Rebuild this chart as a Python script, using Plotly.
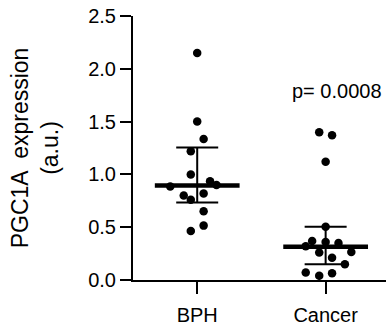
import plotly.graph_objects as go

# ---- data ----
categories = ["BPH", "Cancer"]
bph_values = [2.15, 1.50, 1.335, 1.22, 1.00, 0.885, 0.935, 0.90, 0.80, 0.76, 0.82, 0.65, 0.515, 0.465]
cancer_values = [1.40, 1.37, 1.12, 0.505, 0.37, 0.36, 0.35, 0.32, 0.26, 0.265, 0.21, 0.15, 0.07, 0.04, 0.063]
medians = [0.895, 0.315]
upper = [1.255, 0.505]
lower = [0.735, 0.148]
p_label = "p= 0.0008"
y_ticks = [0.0, 0.5, 1.0, 1.5, 2.0, 2.5]

# scatter-dot layout (horizontal spread within each category)
bph_jitter = [0, 0, 0.05, -0.05, -0.05, -0.21, 0.10, 0.15, -0.105, -0.05, 0.05, 0.05, 0.05, -0.05]
cancer_jitter = [-0.05, 0.05, 0, 0, -0.105, 0, 0.10, -0.155, -0.05, 0.20, 0.05, 0.15, -0.155, -0.05, 0.05]

FONT = "Liberation Sans, Arial, sans-serif"
fig = go.Figure()

half_med = 0.33
for i, cat in enumerate(categories):
    fig.add_trace(go.Scatter(
        x=[i], y=[medians[i]], mode="markers",
        marker=dict(size=0.1, color="black"),
        error_y=dict(type="data", symmetric=False,
                     array=[upper[i] - medians[i]],
                     arrayminus=[medians[i] - lower[i]],
                     color="black", thickness=2, width=21),
        hoverinfo="skip"))
    fig.add_trace(go.Scatter(
        x=[i - half_med, i + half_med], y=[medians[i], medians[i]],
        mode="lines", line=dict(color="black", width=4.5), hoverinfo="skip"))

groups = [bph_values, cancer_values]
jitters = [bph_jitter, cancer_jitter]
for i, (vals, jit) in enumerate(zip(groups, jitters)):
    fig.add_trace(go.Scatter(
        x=[i + j for j in jit], y=vals, mode="markers",
        marker=dict(size=8.5, color="black"), name=categories[i]))

fig.add_annotation(x=1.09, y=1.79, xref="x", yref="y", text=p_label,
                   showarrow=False, xanchor="center", yanchor="middle",
                   font=dict(family=FONT, size=20, color="black"))

fig.update_layout(
    width=386, height=326,
    margin=dict(l=133, r=0, t=16, b=46),
    paper_bgcolor="white", plot_bgcolor="white",
    showlegend=False,
    font=dict(family=FONT, size=20, color="black"),
)
fig.update_xaxes(
    range=[-0.5, 1.47], tickvals=[0, 1], ticktext=categories,
    showline=True, linecolor="black", linewidth=2,
    ticks="outside", ticklen=12, tickwidth=2, tickcolor="black",
    ticklabelstandoff=4,
    showgrid=False, zeroline=False,
    tickfont=dict(family=FONT, size=20, color="black"),
)
fig.update_yaxes(
    range=[0, 2.5], tickvals=y_ticks, ticktext=[f"{v:.1f}" for v in y_ticks],
    showline=True, linecolor="black", linewidth=2,
    ticks="outside", ticklen=11, tickwidth=2, tickcolor="black",
    showgrid=False, zeroline=False,
    tickfont=dict(family=FONT, size=20, color="black"),
    title=dict(text="PGC1A  expression<br>(a.u.)", standoff=23,
               font=dict(family=FONT, size=23, color="black")),
    automargin=False,
)

fig.write_html("out.html",
               config={"displayModeBar": False},
               post_script="document.body.style.margin='0';document.body.style.overflow='hidden';")
